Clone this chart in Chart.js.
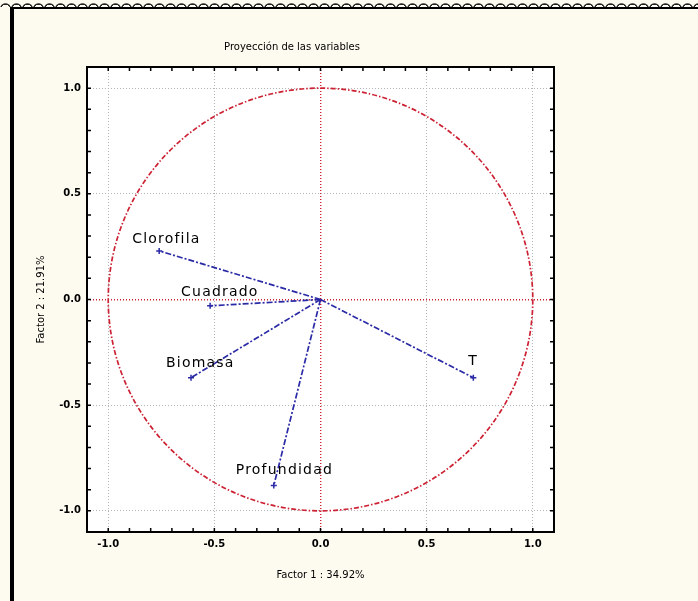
<!DOCTYPE html>
<html>
<head>
<meta charset="utf-8">
<script src="https://cdn.jsdelivr.net/npm/chart.js@4"></script>
<style>
  body { margin: 0; background: #fdfaef; }
  #wrap { position: relative; width: 698px; height: 601px; overflow: hidden; }
  #strip {
    position: absolute; left: 0; top: 0; width: 698px; height: 7px;
    background: radial-gradient(circle at 50% 110%, transparent 4px, #222 4px, #222 5px, transparent 6px) 0 0 / 11px 8px repeat-x;
  }
  #frame {
    position: absolute; left: 10px; top: 7px; width: 700px; height: 600px;
    border-left: 4px solid #000; border-top: 2px solid #000;
  }
  canvas { position: absolute; left: 0; top: 0; }
</style>
</head>
<body>
<div id="wrap">
  <div id="strip"></div>
  <div id="frame"></div>
  <canvas id="pcaChart" width="698" height="601"></canvas>
</div>
<script>
// datos
const variables = ["Clorofila", "Cuadrado", "Biomasa", "Profundidad", "T"];
const factor1 = [-0.76, -0.52, -0.61, -0.22, 0.72];
const factor2 = [0.23, -0.03, -0.37, -0.88, -0.37];
const majorTicks = [-1.0, -0.5, 0.0, 0.5, 1.0];

// posicion de cada etiqueta respecto al extremo del vector (px)
const labelOffsets = [[-27, -12], [-29, -13], [-25, -14], [-38, -15], [-5, -16]];

const blue = "#2a2aa6";
const red = "#cc2233";

const isMajor = (v) => majorTicks.some((m) => Math.abs(m - v) < 1e-6);
const tickLabel = (v) => (isMajor(v) ? v.toFixed(1) : "");
const gridColor = (ctx) => {
  if (!ctx.tick || !isMajor(ctx.tick.value)) return "rgba(0,0,0,0)";
  return Math.abs(ctx.tick.value) < 1e-6 ? red : "#b5b5b5";
};
const gridWidth = (ctx) => (ctx.tick && Math.abs(ctx.tick.value) < 1e-6 ? 1.4 : 1);

const plotDecor = {
  id: "plotDecor",
  beforeDraw(chart) {
    const { ctx, chartArea: a } = chart;
    ctx.save();
    ctx.fillStyle = "#ffffff";
    ctx.fillRect(a.left, a.top, a.right - a.left, a.bottom - a.top);
    ctx.restore();
  },
  beforeDatasetsDraw(chart) {
    // circulo de correlaciones
    const { ctx } = chart;
    const xs = chart.scales.x, ys = chart.scales.y;
    const cx = xs.getPixelForValue(0), cy = ys.getPixelForValue(0);
    const rx = xs.getPixelForValue(1) - cx, ry = cy - ys.getPixelForValue(1);
    ctx.save();
    ctx.strokeStyle = red;
    ctx.lineWidth = 1.7;
    ctx.setLineDash([5, 2, 1.5, 2]);
    ctx.beginPath();
    ctx.ellipse(cx, cy, rx, ry, 0, 0, Math.PI * 2);
    ctx.stroke();
    ctx.restore();
  },
  afterDatasetsDraw(chart) {
    const { ctx, chartArea: a } = chart;
    const xs = chart.scales.x, ys = chart.scales.y;

    // etiquetas de las variables
    ctx.save();
    ctx.font = "14px 'DejaVu Sans'";
    ctx.letterSpacing = "1.2px";
    ctx.fillStyle = "#000";
    ctx.textAlign = "left";
    ctx.textBaseline = "middle";
    variables.forEach((name, i) => {
      const px = xs.getPixelForValue(factor1[i]);
      const py = ys.getPixelForValue(factor2[i]);
      ctx.fillText(name, px + labelOffsets[i][0], py + labelOffsets[i][1]);
    });
    ctx.restore();

    // marco y marcas hacia dentro
    ctx.save();
    ctx.strokeStyle = "#000";
    ctx.lineWidth = 2;
    ctx.strokeRect(a.left, a.top, a.right - a.left, a.bottom - a.top);
    ctx.lineWidth = 1.5;
    ctx.beginPath();
    xs.ticks.forEach((t) => {
      if (Math.abs(t.value) > 1.05) return;
      const p = xs.getPixelForValue(t.value);
      ctx.moveTo(p, a.bottom); ctx.lineTo(p, a.bottom - 4);
      ctx.moveTo(p, a.top); ctx.lineTo(p, a.top + 4);
    });
    ys.ticks.forEach((t) => {
      if (Math.abs(t.value) > 1.05) return;
      const p = ys.getPixelForValue(t.value);
      ctx.moveTo(a.left, p); ctx.lineTo(a.left + 4, p);
      ctx.moveTo(a.right, p); ctx.lineTo(a.right - 4, p);
    });
    ctx.stroke();
    ctx.restore();
  }
};

const datasets = variables.map((name, i) => ({
  label: name,
  data: [{ x: 0, y: 0 }, { x: factor1[i], y: factor2[i] }],
  showLine: true,
  borderColor: blue,
  backgroundColor: blue,
  borderWidth: 1.7,
  borderDash: [6, 2, 2, 2],
  pointStyle: "cross",
  pointRadius: (c) => (c.dataIndex === 0 ? 0 : 3),
  pointBorderWidth: 1.5,
}));

const axisBase = {
  type: "linear",
  min: -1.1,
  max: 1.1,
  border: { display: false, dash: [1, 2] },
  grid: { color: gridColor, lineWidth: gridWidth, drawTicks: false },
  ticks: {
    stepSize: 0.1,
    autoSkip: false,
    callback: tickLabel,
    color: "#000",
    font: { family: "DejaVu Sans", size: 10, weight: "bold" },
  },
};

new Chart(document.getElementById("pcaChart"), {
  type: "scatter",
  data: { datasets },
  options: {
    responsive: false,
    animation: false,
    events: [],
    layout: { padding: { left: 30, right: 144, top: 0, bottom: 0 } },
    plugins: {
      legend: { display: false },
      tooltip: { enabled: false },
      title: {
        display: true,
        text: "Proyección de las variables",
        color: "#000",
        font: { family: "DejaVu Sans", size: 10, weight: "normal" },
        padding: { top: 41, bottom: 14 },
      },
    },
    scales: {
      x: {
        ...axisBase,
        ticks: { ...axisBase.ticks, padding: 6, maxRotation: 0 },
        title: {
          display: true,
          text: "Factor 1 : 34.92%",
          color: "#000",
          font: { family: "DejaVu Sans", size: 10 },
          padding: { top: 0, bottom: 20 },
        },
        afterFit: (s) => { s.height = 69; },
      },
      y: {
        ...axisBase,
        ticks: { ...axisBase.ticks, padding: 6 },
        title: {
          display: true,
          text: "Factor 2 : 21.91%",
          color: "#000",
          font: { family: "DejaVu Sans", size: 10 },
          padding: { top: 5, bottom: 0 },
        },
        afterFit: (s) => { s.width = 57; },
      },
    },
  },
  plugins: [plotDecor],
});
</script>
</body>
</html>
